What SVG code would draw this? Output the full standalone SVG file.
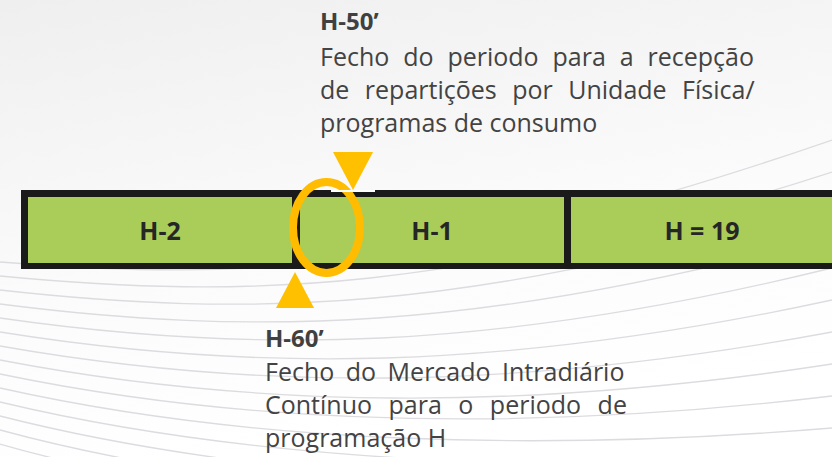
<svg xmlns="http://www.w3.org/2000/svg" width="832" height="457" viewBox="0 0 832 457">
<defs>
<linearGradient id="bg" x1="0" y1="0" x2="0.3" y2="1">
<stop offset="0" stop-color="#efefef"/>
<stop offset="0.6" stop-color="#fbfbfb"/>
<stop offset="1" stop-color="#ffffff"/>
</linearGradient>
<style>
.wave{fill:none;stroke:#dcdce0;stroke-width:1.3}
.seg{fill:#aacd59}
.lbl{font-family:"Open Sans","Liberation Sans",sans-serif;font-weight:bold;font-size:25px;fill:#262626;text-anchor:middle}
.hd{font-family:"Open Sans","Liberation Sans",sans-serif;font-weight:bold;font-size:24px;fill:#404040}
.tx{font-family:"Open Sans","Liberation Sans",sans-serif;font-size:25px;fill:#434343}
.mk{fill:#ffc000}
</style>
</defs>
<rect width="832" height="457" fill="url(#bg)"/>
<g id="background-waves">
<path class="wave" d="M0,262 C250,282 450,272 832,140"/>
<path class="wave" d="M0,276 C250,300 460,292 832,172"/>
<path class="wave" d="M0,290 C250,318 470,312 832,204"/>
<path class="wave" d="M0,304 C250,336 480,332 832,236"/>
<path class="wave" d="M0,318 C250,354 490,352 832,268"/>
<path class="wave" d="M0,332 C250,372 500,372 832,300"/>
<path class="wave" d="M0,346 C250,390 510,392 832,332"/>
<path class="wave" d="M0,360 C250,408 520,412 832,364"/>
<path class="wave" d="M0,374 C250,426 530,432 832,396"/>
<path class="wave" d="M0,388 C250,444 540,452 832,428"/>
<path class="wave" d="M0,402 C250,462 550,472 832,460"/>
<path class="wave" d="M0,416 C250,480 560,492 832,492"/>
<path class="wave" d="M0,430 C250,498 570,512 832,524"/>
<path class="wave" d="M0,444 C250,516 580,532 832,556"/>
</g>
<g id="timeline-frame">
<rect x="21" y="190" width="820" height="79" fill="#1a1a1a"/>
</g>
<g id="node-h-2">
<rect class="seg" x="28" y="197" width="264" height="66"/>
<text class="lbl" x="160" y="240">H-2</text>
</g>
<g id="node-h-1">
<rect class="seg" x="300" y="197" width="264" height="66"/>
<text class="lbl" x="432" y="240">H-1</text>
</g>
<g id="node-h">
<rect class="seg" x="571" y="197" width="270" height="66"/>
<text class="lbl" x="702" y="240">H = 19</text>
</g>
<g id="connectors"/>
<g id="highlight">
<ellipse cx="326.5" cy="227.5" rx="33.5" ry="45.5" fill="none" stroke="#ffbc00" stroke-width="8"/>
</g>
<g id="marker-h-50">
<rect x="331" y="190" width="44" height="2" fill="#ffffff"/>
<polygon class="mk" points="333,152 373,152 353,190"/>
<text class="hd" x="320" y="30">H-50’</text>
<text class="tx" x="320" y="66" word-spacing="7.4">Fecho do periodo para a recepção</text>
<text class="tx" x="320" y="99" word-spacing="9">de repartições por Unidade Física/</text>
<text class="tx" x="320" y="132">programas de consumo</text>
</g>
<g id="marker-h-60">
<polygon class="mk" points="295,272 314,308 276,308"/>
<text class="hd" x="265" y="347">H-60’</text>
<text class="tx" x="265" y="381" word-spacing="5">Fecho do Mercado Intradiário</text>
<text class="tx" x="265" y="414" word-spacing="10">Contínuo para o periodo de</text>
<text class="tx" x="265" y="447">programação H</text>
</g>
</svg>
